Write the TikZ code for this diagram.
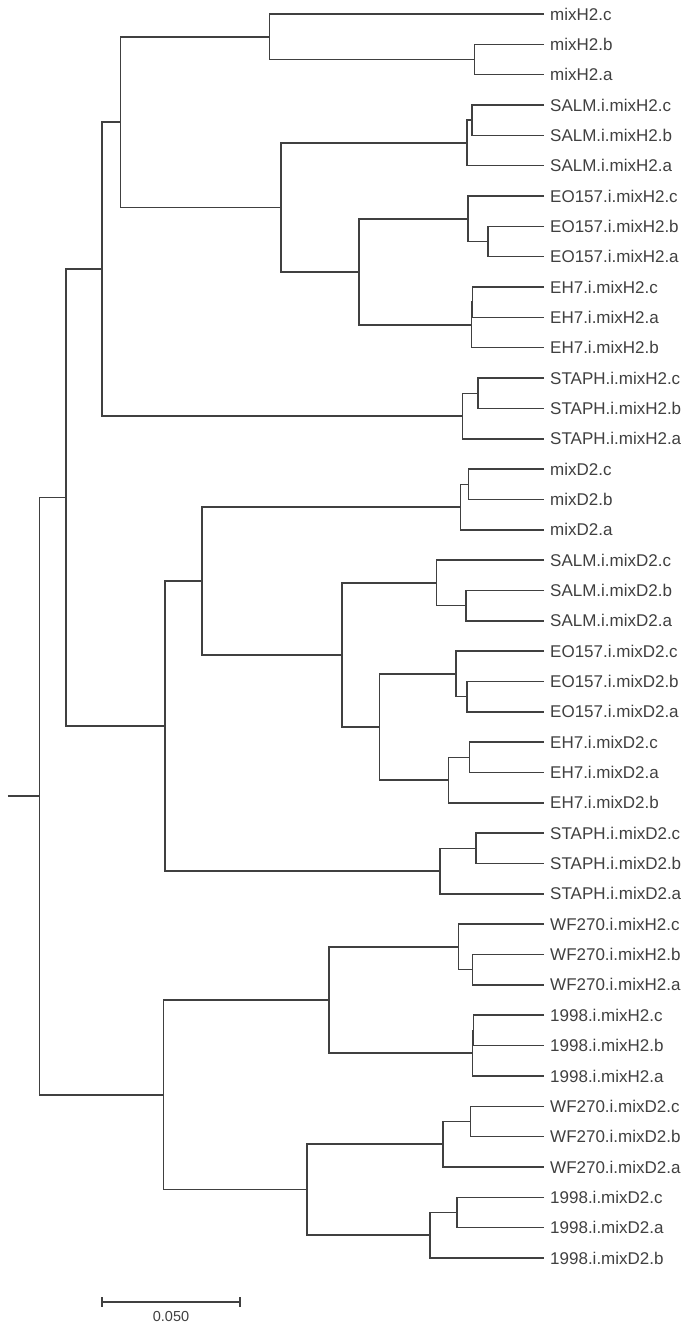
\documentclass[tikz,border=0pt]{standalone}
\usepackage{fontspec}
\newfontfamily\treefont{Liberation Sans}
\usetikzlibrary{calc}

% join two subtrees (#3, #4) at depth #2, parent named #1
\newcommand\clade[4]{%
  \path let \p1=($(#3)!0.5!(#4)$) in (#2,\y1) coordinate (#1);
  \draw[branch] (#3) -| (#1) |- (#4);
}

\begin{document}
\begin{tikzpicture}[x=1pt,y=-1pt,
  branch/.style={line width=1.5pt,draw=black!75},
  leaf/.style={anchor=west,inner sep=0pt,text height=12.2pt,text depth=0pt,
    text=black!75,font=\treefont\fontsize{17}{20}\selectfont},
  scalelabel/.style={inner sep=0pt,text=black!75,font=\treefont\fontsize{14.5}{17}\selectfont}]
\useasboundingbox (0,0) rectangle (685,1327);

% leaves
\foreach \lab [count=\i from 0] in {mixH2.c,mixH2.b,mixH2.a,
  SALM.i.mixH2.c,SALM.i.mixH2.b,SALM.i.mixH2.a,
  EO157.i.mixH2.c,EO157.i.mixH2.b,EO157.i.mixH2.a,
  EH7.i.mixH2.c,EH7.i.mixH2.a,EH7.i.mixH2.b,
  STAPH.i.mixH2.c,STAPH.i.mixH2.b,STAPH.i.mixH2.a,
  mixD2.c,mixD2.b,mixD2.a,
  SALM.i.mixD2.c,SALM.i.mixD2.b,SALM.i.mixD2.a,
  EO157.i.mixD2.c,EO157.i.mixD2.b,EO157.i.mixD2.a,
  EH7.i.mixD2.c,EH7.i.mixD2.a,EH7.i.mixD2.b,
  STAPH.i.mixD2.c,STAPH.i.mixD2.b,STAPH.i.mixD2.a,
  WF270.i.mixH2.c,WF270.i.mixH2.b,WF270.i.mixH2.a,
  1998.i.mixH2.c,1998.i.mixH2.b,1998.i.mixH2.a,
  WF270.i.mixD2.c,WF270.i.mixD2.b,WF270.i.mixD2.a,
  1998.i.mixD2.c,1998.i.mixD2.a,1998.i.mixD2.b}{
  \coordinate (l\i) at (544,{14+30.34*\i});
  \node[leaf] (t\i) at (550,{14+30.34*\i}) {\lab};
}

% mixH2 group
\clade{a1}{474.6}{l1}{l2}
\clade{a2}{269.7}{l0}{a1}
\clade{b1}{472}{l3}{l4}
\clade{b2}{467}{b1}{l5}
\clade{c1}{488}{l7}{l8}
\clade{c2}{468}{l6}{c1}
\clade{d1}{472.4}{l9}{l10}
\clade{d2}{471.5}{d1}{l11}
\clade{e1}{359}{c2}{d2}
\clade{e2}{281}{b2}{e1}
\clade{e3}{120.6}{a2}{e2}
\clade{f1}{478}{l12}{l13}
\clade{f2}{462.7}{f1}{l14}
\clade{g1}{102}{e3}{f2}

% mixD2 group
\clade{h1}{468.4}{l15}{l16}
\clade{h2}{460.5}{h1}{l17}
\clade{i1}{465.8}{l19}{l20}
\clade{i2}{436.4}{l18}{i1}
\clade{j1}{467}{l22}{l23}
\clade{j2}{456}{l21}{j1}
\clade{k1}{469.3}{l24}{l25}
\clade{k2}{448.7}{k1}{l26}
\clade{m1}{379.4}{j2}{k2}
\clade{m2}{342}{i2}{m1}
\clade{m3}{201.8}{h2}{m2}
\clade{p1}{476}{l27}{l28}
\clade{p2}{440}{p1}{l29}
\clade{q1}{165}{m3}{p2}
\clade{r1}{65.8}{g1}{q1}

% WF270 / 1998 group
\clade{s1}{472.4}{l31}{l32}
\clade{s2}{458.3}{l30}{s1}
\clade{t1}{473.5}{l33}{l34}
\clade{t2}{472.4}{t1}{l35}
\clade{u1}{329}{s2}{t2}
\clade{v1}{470.6}{l36}{l37}
\clade{v2}{443}{v1}{l38}
\clade{w1}{457}{l39}{l40}
\clade{w2}{429.8}{w1}{l41}
\clade{x1}{307}{v2}{w2}
\clade{y1}{163.6}{u1}{x1}

% root
\clade{root}{39.5}{r1}{y1}
\path (root) ++(-31.6,0) coordinate (stub);
\draw[branch] (stub) -- (root);

% scale bar
\coordinate (sb0) at (102,1302);
\coordinate (sb1) at (240,1302);
\draw[branch] (sb0) -- (sb1);
\draw[branch] ($(sb0)+(0,-5)$) -- ($(sb0)+(0,5)$);
\draw[branch] ($(sb1)+(0,-5)$) -- ($(sb1)+(0,5)$);
\node[scalelabel] (sblab) at (171,1316) {0.050};
\end{tikzpicture}
\end{document}
